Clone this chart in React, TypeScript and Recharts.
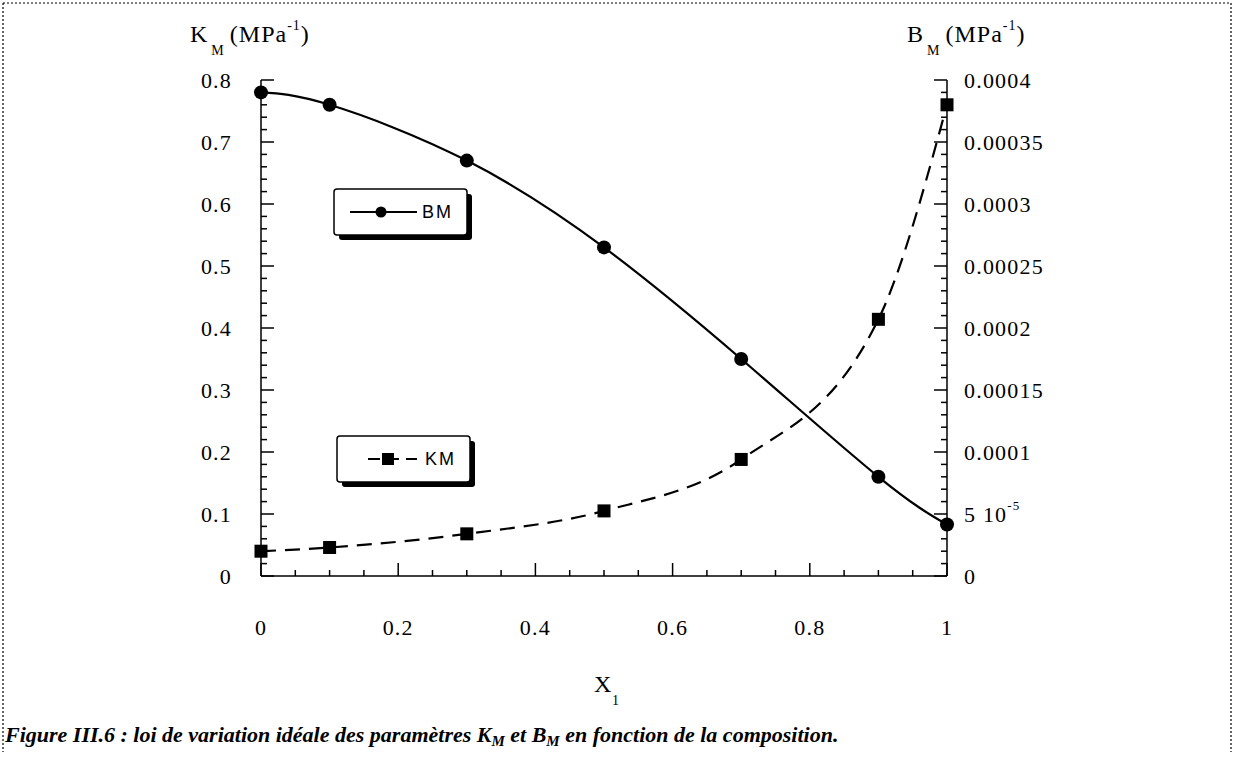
import React from 'react'
import { LineChart, Line, XAxis, YAxis } from 'recharts'

// composition X1
const xValues = [0, 0.1, 0.3, 0.5, 0.7, 0.9, 1]
// circles (left axis)
const bmValues = [0.78, 0.76, 0.67, 0.53, 0.35, 0.16, 0.083]
// squares (right axis)
const kmValues = [0.00002, 0.000023, 0.000034, 0.0000525, 0.000094, 0.000207, 0.00038]

const xMajorTicks = [0, 0.2, 0.4, 0.6, 0.8, 1]
const leftMajorTicks = [0, 0.1, 0.2, 0.3, 0.4, 0.5, 0.6, 0.7, 0.8]
const rightMajorTicks = [0, 0.00005, 0.0001, 0.00015, 0.0002, 0.00025, 0.0003, 0.00035, 0.0004]
const rightTickLabels = ['0', '5 10', '0.0001', '0.00015', '0.0002', '0.00025', '0.0003', '0.00035', '0.0004']

const data = xValues.map((x, i) => ({ x, bm: bmValues[i], km: kmValues[i] }))

function withMinor(majors: number[], parts: number) {
  const out: number[] = []
  for (let i = 0; i < majors.length - 1; i++) {
    const step = (majors[i + 1] - majors[i]) / parts
    for (let j = 0; j < parts; j++) out.push(majors[i] + step * j)
  }
  out.push(majors[majors.length - 1])
  return out
}

const near = (list: number[], v: number) => list.findIndex(m => Math.abs(m - v) < 1e-9)

const W = 1234
const H = 758
const serif = '"Liberation Serif", "Times New Roman", serif'
const sans = '"Liberation Sans", Arial, sans-serif'
const TM_LEFT = 29
const TM_RIGHT = 17
const TICK_FS = 22
const TICK_LS = 1.2

function LeftTick({ x, y, payload }: any) {
  const idx = near(leftMajorTicks, payload.value)
  const ax = x + TM_LEFT
  return (
    <g>
      <line x1={ax} x2={ax + (idx >= 0 ? 13 : 6)} y1={y} y2={y} stroke="#000" strokeWidth={1.5} />
      {idx >= 0 && (
        <text x={x} y={y} textAnchor="end" dominantBaseline="central" fontFamily={serif} fontSize={TICK_FS} letterSpacing={TICK_LS} fill="#000">
          {String(leftMajorTicks[idx])}
        </text>
      )}
    </g>
  )
}

function RightTick({ x, y, payload }: any) {
  const idx = near(rightMajorTicks, payload.value)
  const ax = x - TM_RIGHT
  return (
    <g>
      <line x1={ax} x2={ax - (idx >= 0 ? 13 : 6)} y1={y} y2={y} stroke="#000" strokeWidth={1.5} />
      {idx >= 0 && (
        <text x={x} y={y} textAnchor="start" dominantBaseline="central" fontFamily={serif} fontSize={TICK_FS} letterSpacing={TICK_LS} fill="#000">
          {rightTickLabels[idx]}
          {idx === 1 && (
            <tspan fontSize={13} dy={-9}>-5</tspan>
          )}
        </text>
      )}
    </g>
  )
}

const XTM = 36
function BottomTick({ x, y, payload }: any) {
  const idx = near(xMajorTicks, payload.value)
  const ay = y - XTM
  return (
    <g>
      <line x1={x} x2={x} y1={ay} y2={ay - (idx >= 0 ? 13 : 6)} stroke="#000" strokeWidth={1.5} />
      {idx >= 0 && (
        <text x={x} y={y + 23} textAnchor="middle" fontFamily={serif} fontSize={TICK_FS} letterSpacing={TICK_LS} fill="#000">
          {String(xMajorTicks[idx])}
        </text>
      )}
    </g>
  )
}

function CircleDot({ cx, cy }: any) {
  if (cx == null || cy == null) return null
  return <circle cx={cx} cy={cy} r={7} fill="#000" />
}

function SquareDot({ cx, cy }: any) {
  if (cx == null || cy == null) return null
  return <rect x={cx - 6.5} y={cy - 6.5} width={13} height={13} fill="#000" />
}

function LegendBox({ x, y, kind, label }: { x: number; y: number; kind: 'circle' | 'square'; label: string }) {
  const w = 133
  const h = 46
  const my = y + h / 2
  return (
    <g>
      <rect x={x + 5} y={y + 5} width={w} height={h} rx={3} fill="#000" />
      <rect x={x} y={y} width={w} height={h} rx={3} fill="#fff" stroke="#000" strokeWidth={1.5} />
      {kind === 'circle' ? (
        <g>
          <line x1={x + 16} x2={x + 83} y1={my} y2={my} stroke="#000" strokeWidth={2} />
          <circle cx={x + 47} cy={my} r={5.5} fill="#000" />
        </g>
      ) : (
        <g>
          <line x1={x + 31} x2={x + 80} y1={my} y2={my} stroke="#000" strokeWidth={2} strokeDasharray="12 7" />
          <rect x={x + 45} y={my - 6} width={12} height={12} fill="#000" />
        </g>
      )}
      <text x={x + 88} y={my} dominantBaseline="central" fontFamily={sans} fontSize={18} letterSpacing={2} fill="#000">
        {label}
      </text>
    </g>
  )
}

function AxisTitle({ x, y, letter }: { x: number; y: number; letter: string }) {
  return (
    <text x={x} y={y} fontFamily={serif} fontSize={24} letterSpacing={1} fill="#000">
      {letter}
      <tspan fontSize={14} dy={13} dx={3}>M</tspan>
      <tspan dy={-13} dx={5}>(MPa</tspan>
      <tspan fontSize={14} dy={-12}>-1</tspan>
      <tspan dy={12}>)</tspan>
    </text>
  )
}

export default function App() {
  const plotLeft = 261
  const plotRight = 947
  const plotTop = 80
  const plotBottom = 576
  const yw = 60
  const xh = 60
  return (
    <div style={{ position: 'absolute', left: 0, top: 0, width: W, height: H, background: '#fff' }}>
      <LineChart
        width={W}
        height={H}
        data={data}
        margin={{ top: plotTop, left: plotLeft - yw, right: W - plotRight - yw, bottom: H - plotBottom - xh }}
      >
        <XAxis
          dataKey="x"
          type="number"
          domain={[0, 1]}
          ticks={withMinor(xMajorTicks, 4)}
          interval={0}
          height={xh}
          tickSize={0}
          tickMargin={XTM}
          tickLine={false}
          axisLine={{ stroke: '#000', strokeWidth: 1.5 }}
          tick={<BottomTick />}
        />
        <YAxis
          yAxisId="left"
          type="number"
          domain={[0, 0.8]}
          ticks={withMinor(leftMajorTicks, 5)}
          interval={0}
          width={yw}
          tickSize={0}
          tickMargin={TM_LEFT}
          tickLine={false}
          axisLine={{ stroke: '#000', strokeWidth: 1.5 }}
          tick={<LeftTick />}
        />
        <YAxis
          yAxisId="right"
          orientation="right"
          type="number"
          domain={[0, 0.0004]}
          ticks={withMinor(rightMajorTicks, 5)}
          interval={0}
          width={yw}
          tickSize={0}
          tickMargin={TM_RIGHT}
          tickLine={false}
          axisLine={{ stroke: '#000', strokeWidth: 1.5 }}
          tick={<RightTick />}
        />
        <Line
          yAxisId="left"
          dataKey="bm"
          type="natural"
          stroke="#000"
          strokeWidth={2.2}
          dot={<CircleDot />}
          activeDot={false}
          isAnimationActive={false}
        />
        <Line
          yAxisId="right"
          dataKey="km"
          type="monotone"
          stroke="#000"
          strokeWidth={2.2}
          strokeDasharray="15 9"
          dot={<SquareDot />}
          activeDot={false}
          isAnimationActive={false}
        />
      </LineChart>

      <svg width={W} height={H} style={{ position: 'absolute', left: 0, top: 0, pointerEvents: 'none' }}>
        {/* dotted frame */}
        <line x1={3} x2={1231} y1={3} y2={3} stroke="#000" strokeWidth={1.2} strokeDasharray="2 2" />
        <line x1={3} x2={3} y1={3} y2={752} stroke="#000" strokeWidth={1.2} strokeDasharray="2 2" />
        <line x1={1231} x2={1231} y1={3} y2={752} stroke="#000" strokeWidth={1.2} strokeDasharray="2 2" />

        <AxisTitle x={190} y={42} letter="K" />
        <AxisTitle x={907} y={42} letter="B" />

        {/* x axis title */}
        <text x={594} y={692} fontFamily={serif} fontSize={24} fill="#000">X</text>
        <text x={612} y={705} fontFamily={serif} fontSize={14} fill="#000">1</text>

        <LegendBox x={334} y={189} kind="circle" label="BM" />
        <LegendBox x={337} y={436} kind="square" label="KM" />

        {/* caption */}
        <text x={5} y={742} fontFamily={serif} fontSize={22} fontWeight="bold" fontStyle="italic" fill="#000">
          Figure III.6 : loi de variation idéale des paramètres K
          <tspan fontSize={15} dy={4}>M</tspan>
          <tspan dy={-4}> et B</tspan>
          <tspan fontSize={15} dy={4}>M</tspan>
          <tspan dy={-4}> en fonction de la composition.</tspan>
        </text>
      </svg>
    </div>
  )
}
